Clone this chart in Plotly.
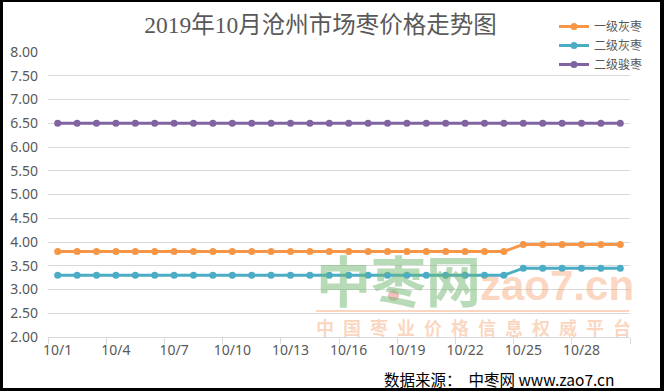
import plotly.graph_objects as go
import pandas as pd

# ---------------- data ----------------
DAY_LABELS = ["10/1", "10/2", "10/3", "10/4", "10/5", "10/6", "10/7", "10/8", "10/9", "10/10",
              "10/11", "10/12", "10/13", "10/14", "10/15", "10/16", "10/17", "10/18", "10/19", "10/20",
              "10/21", "10/22", "10/23", "10/24", "10/25", "10/26", "10/27", "10/28", "10/29", "10/30"]
SERIES_NAMES = ["一级灰枣", "二级灰枣", "二级骏枣"]
GRADE1_HUI = [3.80] * 24 + [3.95] * 6
GRADE2_HUI = [3.30] * 24 + [3.45] * 6
GRADE2_JUN = [6.50] * 30
TICK_LABELS = ["10/1", "10/4", "10/7", "10/10", "10/13", "10/16", "10/19", "10/22", "10/25", "10/28"]
Y_TICKS = [2.0, 2.5, 3.0, 3.5, 4.0, 4.5, 5.0, 5.5, 6.0, 6.5, 7.0, 7.5, 8.0]

# ---------------- layout helpers ----------------
W, H = 664, 391
L, R, T, B = 48, 34, 52, 54
PW, PH = W - L - R, H - T - B


def px_x(px):
    return (px - L) / PW


def px_y(py):
    return (H - B - py) / PH


dates = pd.to_datetime(["2019/" + d for d in DAY_LABELS])
tick_dates = pd.to_datetime(["2019/" + d for d in TICK_LABELS])
half = pd.Timedelta(hours=12)
boundaries = [dates[0] - half] + [d + half for d in dates]
boundary_ticks = boundaries[::3]

COLORS = ["#f79646", "#4bacc6", "#8064a2"]
GRAY = "#595959"

fig = go.Figure()
for name, vals, col in zip(SERIES_NAMES, [GRADE1_HUI, GRADE2_HUI, GRADE2_JUN], COLORS):
    fig.add_trace(go.Scatter(
        x=dates, y=vals, name=name, mode="lines+markers",
        line=dict(color=col, width=3),
        marker=dict(color=col, size=7),
    ))

fig.update_layout(
    width=W, height=H,
    margin=dict(l=L, r=R, t=T, b=B, autoexpand=False),
    paper_bgcolor="white", plot_bgcolor="white",
    title=dict(text="2019年10月沧州市场枣价格走势图", x=320.5 / W, xanchor="center",
               y=1 - 25 / H, yanchor="middle", yref="container",
               font=dict(family="Liberation Serif, Noto Sans CJK SC", size=23.5, color=GRAY)),
    legend=dict(x=554 / W, y=1 - 12 / H, xref="container", yref="container",
                xanchor="left", yanchor="top",
                font=dict(family="Noto Sans CJK SC", size=12, color=GRAY),
                bgcolor="rgba(0,0,0,0)", itemwidth=30, tracegroupgap=0),
    showlegend=True,
    hovermode=False,
)

fig.update_xaxes(
    range=[boundaries[0], boundaries[-1]],
    tickmode="array", tickvals=tick_dates, ticktext=TICK_LABELS,
    ticks="", showgrid=False, showline=True, linecolor="#d9d9d9", linewidth=1,
    tickfont=dict(family="Noto Sans", size=14, color=GRAY),
    minor=dict(tickmode="array", tickvals=boundary_ticks, ticks="outside", ticklen=6,
               tickcolor="#d9d9d9", tickwidth=1, showgrid=False),
    zeroline=False, fixedrange=True,
)
fig.update_yaxes(
    range=[2, 8], tickmode="array", tickvals=Y_TICKS,
    ticktext=["%.2f" % v for v in Y_TICKS],
    showgrid=True, gridcolor="#d9d9d9", gridwidth=1, zeroline=False,
    showline=False, ticks="", ticklabelstandoff=9,
    tickfont=dict(family="Noto Sans", size=14, color=GRAY), fixedrange=True,
)

# watermark
GREEN = "rgba(112,184,112,0.5)"
PEACH = "rgba(245,150,90,0.4)"
ann = [
    dict(text="<b>中枣网</b>", x=px_x(314), y=px_y(278), xanchor="left", yanchor="middle",
         font=dict(family="Noto Sans CJK SC", size=55, color=GREEN)),
    dict(text="<b>zao7.cn</b>", x=px_x(478), y=px_y(285), xanchor="left", yanchor="middle",
         font=dict(family="Liberation Sans", size=42, color=PEACH)),
    dict(text="<b>" + "\u2002".join("中国枣业价格信息权威平台") + "</b>", x=px_x(473.5), y=px_y(327),
         xanchor="center", yanchor="middle",
         font=dict(family="Noto Sans CJK SC", size=18, color=PEACH)),
    dict(text="数据来源：\u00a0\u00a0中枣网 www.zao7.cn", x=px_x(382), y=px_y(379),
         xanchor="left", yanchor="middle",
         font=dict(family="Noto Sans CJK SC", size=15.5, color="black")),
]
for a in ann:
    a.update(xref="paper", yref="paper", showarrow=False)
fig.update_layout(annotations=ann)

shapes = [
    dict(type="line", xref="paper", yref="paper", x0=px_x(316), x1=px_x(629),
         y0=px_y(311), y1=px_y(311), line=dict(color=PEACH, width=2)),
    dict(type="circle", xref="paper", yref="paper", x0=px_x(388), x1=px_x(399),
         y0=px_y(290), y1=px_y(301), fillcolor="rgba(230,110,110,0.45)", line=dict(width=0)),
]
# black frame
for (x0, y0, x1, y1) in [(0, 0, 3, H), (W - 4, 0, W, H), (0, 0, W, 2), (0, H - 3, W, H)]:
    shapes.append(dict(type="rect", xref="paper", yref="paper",
                       x0=px_x(x0), x1=px_x(x1), y0=px_y(y0), y1=px_y(y1),
                       fillcolor="black", line=dict(width=0), layer="above"))
fig.update_layout(shapes=shapes)

fig.write_html("out.html", config={"displayModeBar": False},
               post_script="document.body.style.margin='0';")
